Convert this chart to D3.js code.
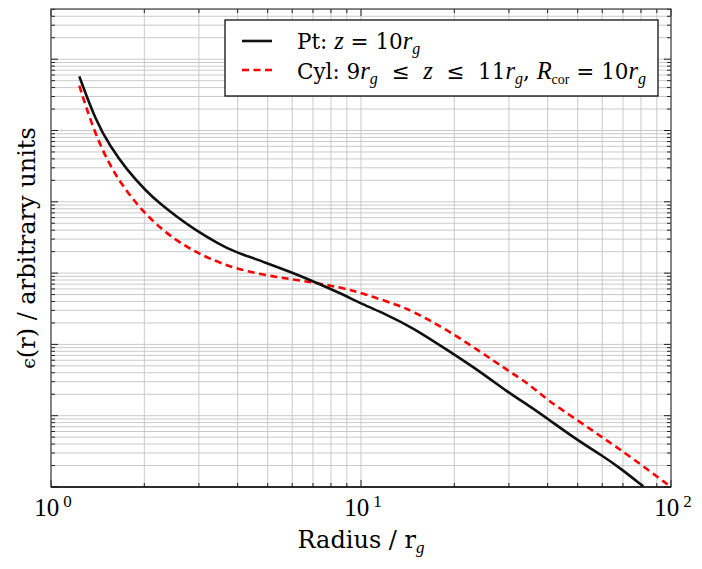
<!DOCTYPE html>
<html>
<head>
<meta charset="utf-8">
<script src="https://cdn.jsdelivr.net/npm/d3@7"></script>
<style>
  body { margin: 0; background: #fff; }
  text { white-space: pre; }
</style>
</head>
<body>
<div id="stage"></div>
<script>
// emissivity profile (arbitrary units)
const radiusPt = [1.234, 1.404, 1.550, 1.754, 2.035, 2.247, 2.544, 2.877, 3.510, 3.874, 4.964, 6.047, 7.018, 8.557, 10.17, 11.80, 14.75, 18.90, 24.20, 29.51, 35.10, 39.72, 49.64, 60.47, 68.48, 81.39];
const emissPt = [5.74e5, 1.27e5, 6.12e4, 2.82e4, 1.39e4, 9.40e3, 6.18e3, 4.20e3, 2.50e3, 2.02e3, 1.39e3, 1.00e3, 765, 526, 360, 276, 170, 84.3, 41.8, 21.9, 13.5, 9.28, 4.61, 2.69, 1.85, 1.02];
const radiusCyl = [1.234, 1.369, 1.550, 1.754, 1.985, 2.247, 2.544, 2.877, 3.258, 3.874, 4.964, 6.357, 8.557, 10.43, 13.04, 14.75, 18.90, 24.20, 29.51, 35.10, 39.72, 49.64, 60.47, 73.76, 100];
const emissCyl = [4.25e5, 1.03e5, 3.14e4, 1.39e4, 7.26e3, 4.33e3, 2.85e3, 2.06e3, 1.59e3, 1.18e3, 920, 790, 638, 498, 360, 290, 161, 79.8, 44.2, 27.2, 16.8, 8.79, 4.86, 2.69, 1.0];
const xTickExps = [0, 1, 2];

const SERIF = '"DejaVu Serif", serif';
const MATH = '"Liberation Serif", serif';

const W = 702, H = 569;
const pL = 51, pR = 671, pT = 9, pB = 487;

const svg = d3.select('#stage').append('svg').attr('width', W).attr('height', H);

const x = d3.scaleLog().domain([1, 100]).range([pL, pR]);
const y = d3.scaleLog().domain([1, 5.06e6]).range([pB, pT]);

const isMajor = v => Math.abs(Math.log10(v) - Math.round(Math.log10(v))) < 1e-9;

// grid
const xt = x.ticks();
const yt = y.ticks().filter(v => v <= 5.06e6);
const grid = svg.append('g').attr('stroke', '#c4c4c4').attr('stroke-width', 0.9);
xt.forEach(v => grid.append('line').attr('x1', x(v)).attr('x2', x(v)).attr('y1', pT).attr('y2', pB));
yt.forEach(v => grid.append('line').attr('x1', pL).attr('x2', pR).attr('y1', y(v)).attr('y2', y(v)));

// curves
svg.append('clipPath').attr('id', 'clip').append('rect')
  .attr('x', pL).attr('y', pT).attr('width', pR - pL).attr('height', pB - pT);

const line = d3.line().x(d => x(d[0])).y(d => y(d[1])).curve(d3.curveBasis);

svg.append('path')
  .attr('clip-path', 'url(#clip)')
  .attr('d', line(d3.zip(radiusCyl, emissCyl)))
  .attr('fill', 'none').attr('stroke', '#ff0000').attr('stroke-width', 2.6)
  .attr('stroke-dasharray', '7,4.5');

svg.append('path')
  .attr('clip-path', 'url(#clip)')
  .attr('d', line(d3.zip(radiusPt, emissPt)))
  .attr('fill', 'none').attr('stroke', '#111').attr('stroke-width', 2.6);

// ticks (inward, all sides)
const ticks = svg.append('g').attr('stroke', '#222').attr('stroke-width', 1);
xt.forEach(v => {
  const L = isMajor(v) ? 7 : 4;
  ticks.append('line').attr('x1', x(v)).attr('x2', x(v)).attr('y1', pB).attr('y2', pB - L);
  ticks.append('line').attr('x1', x(v)).attr('x2', x(v)).attr('y1', pT).attr('y2', pT + L);
});
yt.forEach(v => {
  const L = isMajor(v) ? 7 : 4;
  ticks.append('line').attr('x1', pL).attr('x2', pL + L).attr('y1', y(v)).attr('y2', y(v));
  ticks.append('line').attr('x1', pR).attr('x2', pR - L).attr('y1', y(v)).attr('y2', y(v));
});

// frame
svg.append('rect').attr('x', pL).attr('y', pT).attr('width', pR - pL).attr('height', pB - pT)
  .attr('fill', 'none').attr('stroke', '#444').attr('stroke-width', 1.2);
svg.append('line').attr('x1', pL).attr('x2', pR).attr('y1', pB).attr('y2', pB)
  .attr('stroke', '#111').attr('stroke-width', 1.6);

// x tick labels
xTickExps.forEach(e => {
  const t = svg.append('text')
    .attr('x', x(Math.pow(10, e)) + 2)
    .attr('y', 516)
    .attr('text-anchor', 'middle')
    .style('font-family', MATH)
    .style('font-size', '25px');
  t.append('tspan').text('10');
  t.append('tspan').attr('dy', -9).attr('dx', 4).style('font-size', '17px').text(e);
});

// axis labels
const xl = svg.append('text')
  .attr('x', (pL + pR) / 2).attr('y', 548)
  .attr('text-anchor', 'middle')
  .style('font-family', SERIF)
  .style('font-size', '24px');
xl.append('tspan').text('Radius / r');
xl.append('tspan').attr('dy', 5).style('font-size', '17px')
  .style('font-family', MATH).style('font-style', 'italic').text('g');

const yl = svg.append('text')
  .attr('transform', `translate(35,${(pT + pB) / 2}) rotate(-90)`)
  .attr('text-anchor', 'middle')
  .style('font-family', SERIF)
  .style('font-size', '24px');
yl.append('tspan').style('font-size', '19px').text('\u03F5');
yl.append('tspan').text('(r) / arbitrary units');

// legend
const lg = svg.append('g');
lg.append('rect').attr('x', 225).attr('y', 20).attr('width', 433).attr('height', 76)
  .attr('fill', '#fff').attr('stroke', '#111').attr('stroke-width', 1.3);
lg.append('line').attr('x1', 242).attr('x2', 272).attr('y1', 41).attr('y2', 41)
  .attr('stroke', '#111').attr('stroke-width', 2.6);
lg.append('line').attr('x1', 242).attr('x2', 272).attr('y1', 70).attr('y2', 70)
  .attr('stroke', '#ff0000').attr('stroke-width', 2.6).attr('stroke-dasharray', '7,4.5');

// each legend entry: [text, style] with style: '' upright, 'i' italic, 's' italic subscript, 'u' upright subscript
const legendPt = [['Pt: ', ''], ['z', 'i'], [' = 10', ''], ['r', 'i'], ['g', 's']];
const legendCyl = [['Cyl: 9', ''], ['r', 'i'], ['g', 's'], ['  \u2264  ', ''], ['z', 'i'], ['  \u2264  11', ''],
  ['r', 'i'], ['g', 's'], [', ', ''], ['R', 'i'], ['cor', 'u'], [' = 10', ''], ['r', 'i'], ['g', 's']];

function legendText(parts, yy) {
  const t = lg.append('text').attr('x', 297).attr('y', yy)
    .style('font-family', SERIF).style('font-size', '21.5px');
  let sub = false;
  parts.forEach(([s, k]) => {
    const ts = t.append('tspan').text(s);
    if (k === 'i' || k === 's') ts.style('font-family', MATH).style('font-style', 'italic');
    if (k === 'i') ts.style('font-size', '24.5px');
    if (k === 's' || k === 'u') {
      ts.attr('dy', 5).style('font-size', k === 's' ? '16px' : '14px');
      if (k === 'u') ts.style('font-family', MATH);
      sub = true;
    } else if (sub) {
      ts.attr('dy', -5);
      sub = false;
    }
  });
}
legendText(legendPt, 49);
legendText(legendCyl, 79);
</script>
</body>
</html>
